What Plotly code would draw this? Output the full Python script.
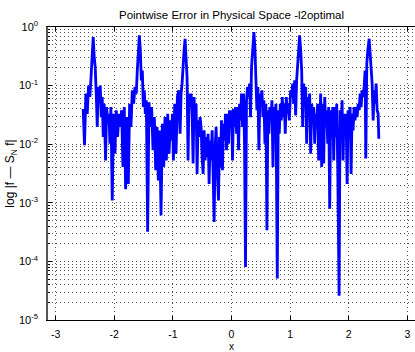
import plotly.graph_objects as go

# Sample locations and pointwise error values of the l2-optimal approximation
x_vals = [
    -2.530, -2.507, -2.484, -2.461, -2.438, -2.416, -2.399, -2.382, -2.359, -2.342,
    -2.325, -2.307, -2.290, -2.273, -2.256, -2.239, -2.222, -2.205, -2.188, -2.171,
    -2.148, -2.131, -2.108, -2.091, -2.074, -2.057, -2.034, -2.011, -1.988, -1.966,
    -1.943, -1.920, -1.897, -1.874, -1.852, -1.829, -1.806, -1.783, -1.760, -1.738,
    -1.715, -1.692, -1.669, -1.646, -1.624, -1.607, -1.589, -1.572, -1.555, -1.538,
    -1.521, -1.504, -1.487, -1.470, -1.453, -1.430, -1.407, -1.384, -1.362, -1.339,
    -1.316, -1.293, -1.270, -1.248, -1.225, -1.202, -1.179, -1.156, -1.134, -1.111,
    -1.088, -1.065, -1.042, -1.020,
    -1.008, -0.991, -0.969, -0.946, -0.923, -0.900, -0.877, -0.860, -0.843, -0.826,
    -0.809, -0.792, -0.775, -0.758, -0.741, -0.724, -0.707, -0.689, -0.672, -0.655,
    -0.638, -0.621, -0.604, -0.587, -0.570, -0.553, -0.536, -0.519, -0.501, -0.484,
    -0.467, -0.450, -0.433, -0.416, -0.399, -0.382, -0.365, -0.348, -0.330, -0.313,
    -0.296, -0.279, -0.262, -0.245, -0.222, -0.205, -0.188, -0.171, -0.154, -0.137,
    -0.120, -0.103, -0.085, -0.068, -0.051, -0.034, -0.017, 0.000, 0.017, 0.034,
    0.051, 0.068, 0.086, 0.103, 0.120, 0.137, 0.154, 0.171, 0.188, 0.205,
    0.222, 0.239, 0.256, 0.274, 0.291, 0.308, 0.325, 0.342, 0.359, 0.382,
    0.399, 0.416, 0.433, 0.450, 0.467, 0.484, 0.502, 0.519, 0.536, 0.553,
    0.570, 0.587, 0.604, 0.621, 0.638, 0.655, 0.672, 0.690, 0.707, 0.724,
    0.741, 0.758, 0.781, 0.798, 0.815, 0.832, 0.849, 0.866, 0.883, 0.900,
    0.917, 0.935, 0.952, 0.969, 0.986,
    1.009, 1.026, 1.043, 1.060, 1.077, 1.094, 1.111, 1.128, 1.145, 1.162,
    1.180, 1.197, 1.214, 1.231, 1.248, 1.265, 1.282, 1.299, 1.316, 1.333,
    1.350, 1.368, 1.385, 1.402, 1.419, 1.436, 1.453, 1.470, 1.487, 1.504,
    1.521, 1.538, 1.556, 1.573, 1.590, 1.607, 1.624, 1.641, 1.658, 1.675,
    1.692, 1.709, 1.727, 1.744, 1.761, 1.778, 1.795, 1.812, 1.835, 1.852,
    1.869, 1.886, 1.903, 1.920, 1.937, 1.954, 1.972, 1.989, 2.006, 2.023,
    2.040, 2.057, 2.074, 2.091, 2.108, 2.125, 2.143, 2.160, 2.177, 2.194,
    2.211, 2.228, 2.245, 2.262, 2.279, 2.291, 2.308, 2.325, 2.348, 2.365,
    2.382, 2.399, 2.416, 2.433, 2.450, 2.467, 2.484, 2.501, 2.513,
]

err_vals = [
    0.040, 0.0096, 0.073, 0.033, 0.10, 0.064, 0.123, 0.27, 0.67, 0.31,
    0.21, 0.073, 0.0197, 0.095, 0.049, 0.10, 0.029, 0.064, 0.0133, 0.049,
    0.0053, 0.043, 0.0224, 0.033, 0.0102, 0.043, 0.0011, 0.033, 0.0069, 0.038,
    0.0133, 0.033, 0.0197, 0.038, 0.0041, 0.043, 0.0017, 0.029, 0.0021, 0.049,
    0.0197, 0.083, 0.049, 0.095, 0.073, 0.18, 0.46, 0.72, 0.40, 0.123,
    0.18, 0.043, 0.083, 0.033, 0.056, 0.00032, 0.052, 0.0197, 0.043, 0.0079,
    0.029, 0.0036, 0.0197, 0.0024, 0.0172, 0.00061, 0.0224, 0.0041, 0.029, 0.0053,
    0.033, 0.0069, 0.0255, 0.0116,
    0.033, 0.0053, 0.049, 0.0069, 0.064, 0.083, 0.0151, 0.073, 0.108, 0.24,
    0.40, 0.63, 0.35, 0.14, 0.0053, 0.073, 0.043, 0.073, 0.033, 0.0047,
    0.064, 0.0197, 0.049, 0.0031, 0.0255, 0.0133, 0.029, 0.0197, 0.0060, 0.0031,
    0.0172, 0.0053, 0.0133, 0.0060, 0.0151, 0.0021, 0.0116, 0.0053, 0.0172, 0.0031,
    0.00047, 0.0090, 0.0197, 0.0041, 0.0011, 0.0133, 0.0041, 0.0255, 0.0036, 0.0224,
    0.0116, 0.033, 0.0079, 0.033, 0.0102, 0.038, 0.0197, 0.038, 0.0053, 0.040,
    0.0197, 0.043, 0.0151, 0.043, 0.0079, 0.049, 0.0255, 0.073, 0.0197, 0.073,
    0.0102, 0.00008, 0.056, 0.095, 0.064, 0.108, 0.029, 0.21, 0.46, 0.82,
    0.46, 0.16, 0.038, 0.095, 0.0079, 0.073, 0.049, 0.083, 0.029, 0.056,
    0.0102, 0.049, 0.00034, 0.038, 0.0151, 0.043, 0.0255, 0.056, 0.0041, 0.043,
    0.0197, 0.049, 0.000051, 0.038, 0.0151, 0.049, 0.0255, 0.064, 0.029, 0.049,
    0.0151, 0.064, 0.033, 0.049, 0.0255,
    0.083, 0.064, 0.108, 0.049, 0.123, 0.031, 0.123, 0.21, 0.46, 0.72,
    0.40, 0.18, 0.0197, 0.108, 0.073, 0.095, 0.0102, 0.064, 0.038, 0.073,
    0.0069, 0.049, 0.0224, 0.043, 0.0102, 0.033, 0.0255, 0.049, 0.0053, 0.038,
    0.073, 0.0041, 0.049, 0.0047, 0.064, 0.0197, 0.038, 0.0102, 0.043, 0.00079,
    0.038, 0.0133, 0.043, 0.0053, 0.043, 0.0133, 0.049, 0.0041, 0.000026, 0.038,
    0.0151, 0.056, 0.0053, 0.033, 0.0197, 0.033, 0.0021, 0.038, 0.0133, 0.043,
    0.0031, 0.033, 0.0172, 0.043, 0.0255, 0.043, 0.029, 0.049, 0.038, 0.073,
    0.043, 0.083, 0.064, 0.095, 0.18, 0.0057, 0.24, 0.40, 0.63, 0.35,
    0.21, 0.108, 0.0255, 0.083, 0.049, 0.108, 0.038, 0.033, 0.0124,
]

# Axis ticks
x_ticks = [-3, -2, -1, 0, 1, 2, 3]
decades = [1e-5, 1e-4, 1e-3, 1e-2, 1e-1, 1e0]
decade_labels = ["10<sup>-5</sup>", "10<sup>-4</sup>", "10<sup>-3</sup>",
                 "10<sup>-2</sup>", "10<sup>-1</sup>", "10<sup>0</sup>"]

# Minor log grid at the 2..9 multiples inside each decade
y_minor = [d * m for d in decades[:-1] for m in range(2, 10)]

font_family = "Liberation Sans, Arial, Helvetica, sans-serif"

fig = go.Figure(
    go.Scatter(
        x=x_vals,
        y=err_vals,
        mode="lines",
        line=dict(color="#0000ff", width=2.8),
        showlegend=False,
    )
)

grid_style = dict(showgrid=True, gridcolor="#555555", gridwidth=1, griddash="1px,3px")

fig.update_layout(
    width=415,
    height=352,
    margin=dict(l=48, r=0, t=27, b=32),
    paper_bgcolor="white",
    plot_bgcolor="white",
    font=dict(family=font_family, size=10, color="black"),
    title=dict(
        text="Pointwise Error in Physical Space -l2optimal",
        x=0.5, xref="paper", xanchor="center",
        y=1 - 15 / 352, yref="container", yanchor="middle",
        font=dict(family=font_family, size=11.5, color="black"),
    ),
    xaxis=dict(
        range=[-3.13, 3.13],
        tickmode="array",
        tickvals=x_ticks,
        ticktext=[str(t) for t in x_ticks],
        ticks="inside",
        ticklen=4,
        tickcolor="black",
        showline=True,
        linecolor="black",
        linewidth=1,
        mirror="ticks",
        zeroline=False,
        ticklabelstandoff=4,
        tickfont=dict(size=10.5),
        title=dict(text="x", standoff=6, font=dict(size=10)),
        **grid_style,
    ),
    yaxis=dict(
        type="log",
        range=[-5, 0],
        tickmode="array",
        tickvals=decades,
        ticktext=decade_labels,
        ticks="inside",
        ticklen=4,
        tickcolor="black",
        minor=dict(
            tickmode="array",
            tickvals=y_minor,
            ticks="inside",
            ticklen=2,
            tickcolor="black",
            showgrid=True,
            gridcolor="#555555",
            gridwidth=1,
            griddash="1px,3px",
        ),
        showline=True,
        linecolor="#555555",
        linewidth=1.5,
        zeroline=False,
        ticklabelstandoff=6,
        tickfont=dict(size=11),
        title=dict(text="log |f \u2014 S<sub>N</sub> f|", standoff=0, font=dict(size=12)),
        **grid_style,
    ),
)

fig.write_html("out.html")
